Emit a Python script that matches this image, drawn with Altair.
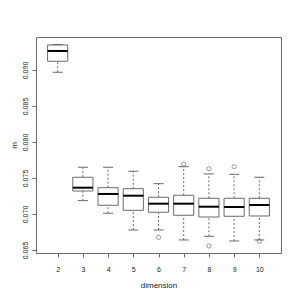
import altair as alt
import pandas as pd

dims = [2, 3, 4, 5, 6, 7, 8, 9, 10]
lower = [0.08968, 0.07185, 0.07010, 0.06778, 0.06778, 0.06639, 0.06690, 0.06625, 0.06639]
q1 = [0.09121, 0.07319, 0.07121, 0.07051, 0.07024, 0.06982, 0.06958, 0.06968, 0.06972]
median = [0.09264, 0.07365, 0.07278, 0.07254, 0.07143, 0.07143, 0.07101, 0.07097, 0.07125]
q3 = [0.09347, 0.07510, 0.07365, 0.07351, 0.07232, 0.07260, 0.07218, 0.07218, 0.07218]
upper = [0.09354, 0.07649, 0.07649, 0.07593, 0.07421, 0.07657, 0.07556, 0.07551, 0.07510]

out_dims = [6, 7, 8, 8, 9, 10]
out_vals = [0.06676, 0.07694, 0.07629, 0.06556, 0.07657, 0.06621]

y_ticks = [0.065, 0.070, 0.075, 0.080, 0.085, 0.090]

df = pd.DataFrame({"dim": dims, "lower": lower, "q1": q1, "median": median, "q3": q3, "upper": upper})
odf = pd.DataFrame({"dim": out_dims, "m": out_vals})

FONT = "Liberation Sans"
GRAY = "#6a6a6a"

xscale = alt.Scale(domain=[1.14, 10.86], nice=False, zero=False)
yscale = alt.Scale(domain=[0.06458, 0.09458], nice=False, zero=False)

xaxis = alt.Axis(values=dims, title="dimension", domain=False, grid=False, tickSize=4,
                 tickColor=GRAY, labelFontSize=7, labelFont=FONT, labelColor="#222",
                 labelPadding=8, titleFont=FONT, titleFontSize=8, titleFontWeight="normal",
                 titleColor="#222", titleX=122.5, titleY=32, titleBaseline="middle")
yaxis = alt.Axis(values=y_ticks, format=".3f", title="m", domain=False, grid=False, tickSize=4,
                 tickColor=GRAY, labelFontSize=7, labelFont=FONT, labelColor="#222",
                 labelAngle=270, labelAlign="center", labelBaseline="bottom", labelPadding=4,
                 titleFont=FONT, titleFontSize=8, titleFontWeight="normal", titleColor="#222",
                 titleX=-22, titleY=108, titleBaseline="middle", titleAngle=270, titleAlign="center")


def X(f):
    return alt.X(f, type="quantitative", scale=xscale, axis=xaxis)


def Y(f):
    return alt.Y(f, type="quantitative", scale=yscale, axis=yaxis)


base = alt.Chart(df).transform_calculate(
    x0="datum.dim - 0.4", x1="datum.dim + 0.4",
    c0="datum.dim - 0.2", c1="datum.dim + 0.2")

w_low = base.mark_rule(color=GRAY, strokeDash=[2, 2], strokeWidth=1).encode(
    x=X("dim"), y=Y("lower"), y2="q1:Q")
w_up = base.mark_rule(color=GRAY, strokeDash=[2, 2], strokeWidth=1).encode(
    x=X("dim"), y=Y("q3"), y2="upper:Q")
cap_low = base.mark_rule(color=GRAY, strokeWidth=1).encode(
    x=X("c0"), x2="c1:Q", y=Y("lower"))
cap_up = base.mark_rule(color=GRAY, strokeWidth=1).encode(
    x=X("c0"), x2="c1:Q", y=Y("upper"))
box = base.mark_rect(fill="white", stroke=GRAY, strokeWidth=1).encode(
    x=X("x0"), x2="x1:Q", y=Y("q1"), y2="q3:Q")
med = base.mark_rule(color="black", strokeWidth=2).encode(
    x=X("x0"), x2="x1:Q", y=Y("median"))
outl = alt.Chart(odf).mark_point(shape="circle", filled=False, color=GRAY, size=18, strokeWidth=1).encode(
    x=X("dim"), y=Y("m"))

chart = alt.layer(w_low, w_up, cap_low, cap_up, box, med, outl).properties(
    width=245, height=216,
    autosize=alt.AutoSizeParams(type="none"),
    padding={"left": 28, "top": 29, "right": 11, "bottom": 39},
    background="white",
).configure_view(stroke=GRAY, strokeWidth=1)

chart.save("out.html", embed_options={"renderer": "svg", "actions": False})
